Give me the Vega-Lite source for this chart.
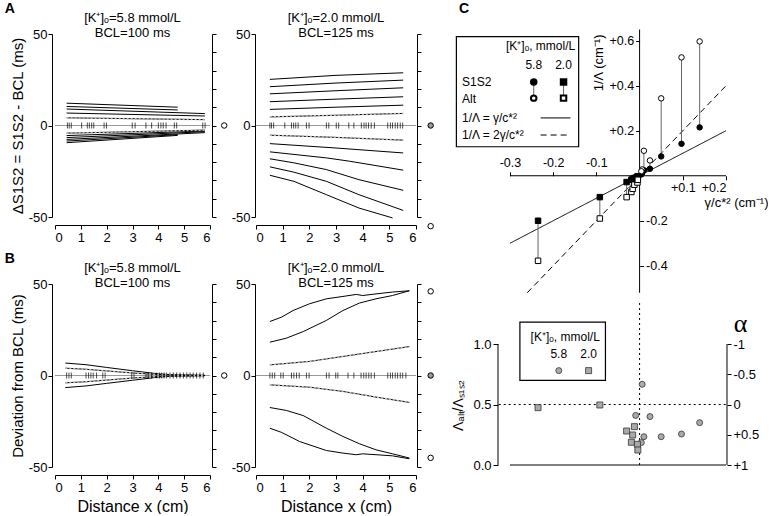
{
"$schema":"https://vega.github.io/schema/vega-lite/v6.json",
"padding":{"left":4,"top":2,"right":0,"bottom":0},
"config":{"view":{"stroke":null},
 "axis":{"grid":false,"labelFont":"Liberation Sans","titleFont":"Liberation Sans","labelFontSize":13,"titleFontSize":13,"titleFontWeight":"normal","labelColor":"black","titleColor":"black","domainColor":"black","tickColor":"black","domainWidth":1,"tickWidth":1},
 "title":{"font":"Liberation Sans","fontSize":13,"fontWeight":"normal","color":"black","lineHeight":15,"offset":-12,"frame":"group"},
 "text":{"font":"Liberation Sans","fontSize":12,"color":"black"}},
"datasets":{
 "aL":[
  {"s":"p1","src":"sim","x":0.45,"y":12.2},{"s":"p1","src":"sim","x":4.75,"y":10.0},
  {"s":"p2","src":"sim","x":0.45,"y":10.4},{"s":"p2","src":"sim","x":4.75,"y":8.5},
  {"s":"p3","src":"sim","x":0.45,"y":9.0},{"s":"p3","src":"sim","x":5.8,"y":6.5},
  {"s":"p4","src":"sim","x":0.45,"y":6.8},{"s":"p4","src":"sim","x":5.8,"y":5.2},
  {"s":"p5","src":"theory","x":0.45,"y":4.2},{"s":"p5","src":"theory","x":5.8,"y":3.2},
  {"s":"n1","src":"theory","x":0.45,"y":-4.2},{"s":"n1","src":"theory","x":5.8,"y":-2.5},
  {"s":"n2","src":"sim","x":0.45,"y":-5.5},{"s":"n2","src":"sim","x":5.8,"y":-3.0},
  {"s":"n3","src":"sim","x":0.45,"y":-6.6},{"s":"n3","src":"sim","x":5.8,"y":-3.4},
  {"s":"n4","src":"sim","x":0.45,"y":-7.6},{"s":"n4","src":"sim","x":5.8,"y":-3.9},
  {"s":"n5","src":"sim","x":0.45,"y":-8.5},{"s":"n5","src":"sim","x":4.75,"y":-5.0},
  {"s":"n6","src":"sim","x":0.45,"y":-9.4},{"s":"n6","src":"sim","x":4.75,"y":-5.4}],
 "aR":[
  {"s":"p1","src":"sim","x":0.52,"y":25.2},{"s":"p1","src":"sim","x":3.0,"y":27.4},{"s":"p1","src":"sim","x":5.52,"y":28.8},
  {"s":"p2","src":"sim","x":0.52,"y":21.2},{"s":"p2","src":"sim","x":3.0,"y":23.2},{"s":"p2","src":"sim","x":5.52,"y":24.8},
  {"s":"p3","src":"sim","x":0.52,"y":17.3},{"s":"p3","src":"sim","x":3.0,"y":19.0},{"s":"p3","src":"sim","x":5.52,"y":20.6},
  {"s":"p4","src":"sim","x":0.52,"y":13.0},{"s":"p4","src":"sim","x":3.0,"y":14.4},{"s":"p4","src":"sim","x":5.52,"y":15.7},
  {"s":"p5","src":"sim","x":0.52,"y":8.8},{"s":"p5","src":"sim","x":3.0,"y":10.0},{"s":"p5","src":"sim","x":5.52,"y":11.1},
  {"s":"p6","src":"theory","x":0.52,"y":4.7},{"s":"p6","src":"theory","x":3.0,"y":5.6},{"s":"p6","src":"theory","x":5.52,"y":6.6},
  {"s":"n1","src":"theory","x":0.52,"y":-5.3},{"s":"n1","src":"theory","x":3.0,"y":-6.5},{"s":"n1","src":"theory","x":5.52,"y":-8.0},
  {"s":"n2","src":"sim","x":0.52,"y":-9.9},{"s":"n2","src":"sim","x":3.0,"y":-12.3},{"s":"n2","src":"sim","x":5.52,"y":-15.0},
  {"s":"n3","src":"sim","x":0.52,"y":-14.4},{"s":"n3","src":"sim","x":2.64,"y":-17.7},{"s":"n3","src":"sim","x":3.5,"y":-19.5},{"s":"n3","src":"sim","x":5.52,"y":-24.4},
  {"s":"n4","src":"sim","x":0.52,"y":-18.2},{"s":"n4","src":"sim","x":1.42,"y":-20.4},{"s":"n4","src":"sim","x":2.64,"y":-24.1},{"s":"n4","src":"sim","x":3.86,"y":-29.6},{"s":"n4","src":"sim","x":5.52,"y":-35.4},
  {"s":"n5","src":"sim","x":0.52,"y":-22.6},{"s":"n5","src":"sim","x":1.42,"y":-25.5},{"s":"n5","src":"sim","x":2.64,"y":-30.5},{"s":"n5","src":"sim","x":3.86,"y":-37.8},{"s":"n5","src":"sim","x":5.52,"y":-46.4},
  {"s":"n6","src":"sim","x":0.52,"y":-27.2},{"s":"n6","src":"sim","x":1.42,"y":-30.5},{"s":"n6","src":"sim","x":2.64,"y":-37.8},{"s":"n6","src":"sim","x":3.86,"y":-45.1},{"s":"n6","src":"sim","x":5.12,"y":-50.5}],
 "bL":[
  {"s":"u1","src":"sim","x":0.4,"y":6.8},{"s":"u1","src":"sim","x":1.2,"y":5.9},{"s":"u1","src":"sim","x":2.0,"y":4.4},{"s":"u1","src":"sim","x":3.0,"y":2.6},{"s":"u1","src":"sim","x":4.0,"y":0.9},{"s":"u1","src":"sim","x":4.6,"y":0.3},{"s":"u1","src":"sim","x":5.8,"y":0.1},
  {"s":"u2","src":"theory","x":0.4,"y":4.0},{"s":"u2","src":"theory","x":1.2,"y":3.4},{"s":"u2","src":"theory","x":2.0,"y":2.5},{"s":"u2","src":"theory","x":3.0,"y":1.4},{"s":"u2","src":"theory","x":4.0,"y":0.5},{"s":"u2","src":"theory","x":5.8,"y":0.05},
  {"s":"d2","src":"theory","x":0.4,"y":-4.0},{"s":"d2","src":"theory","x":1.2,"y":-3.4},{"s":"d2","src":"theory","x":2.0,"y":-2.5},{"s":"d2","src":"theory","x":3.0,"y":-1.4},{"s":"d2","src":"theory","x":4.0,"y":-0.5},{"s":"d2","src":"theory","x":5.8,"y":-0.05},
  {"s":"d1","src":"sim","x":0.4,"y":-6.6},{"s":"d1","src":"sim","x":1.2,"y":-5.7},{"s":"d1","src":"sim","x":2.0,"y":-4.3},{"s":"d1","src":"sim","x":3.0,"y":-2.6},{"s":"d1","src":"sim","x":4.0,"y":-0.9},{"s":"d1","src":"sim","x":4.6,"y":-0.3},{"s":"d1","src":"sim","x":5.8,"y":-0.1}],
 "bR":[
  {"s":"u1","src":"sim","x":0.52,"y":29.5},{"s":"u1","src":"sim","x":0.96,"y":31.9},{"s":"u1","src":"sim","x":1.39,"y":35.5},{"s":"u1","src":"sim","x":2.01,"y":39.2},{"s":"u1","src":"sim","x":2.64,"y":41.9},{"s":"u1","src":"sim","x":3.26,"y":43.2},{"s":"u1","src":"sim","x":3.76,"y":44.3},{"s":"u1","src":"sim","x":4.0,"y":43.7},{"s":"u1","src":"sim","x":4.5,"y":44.6},{"s":"u1","src":"sim","x":5.12,"y":45.6},{"s":"u1","src":"sim","x":5.75,"y":46.3},
  {"s":"u2","src":"sim","x":0.52,"y":18.2},{"s":"u2","src":"sim","x":1.14,"y":20.4},{"s":"u2","src":"sim","x":1.77,"y":24.0},{"s":"u2","src":"sim","x":2.64,"y":30.1},{"s":"u2","src":"sim","x":3.26,"y":35.5},{"s":"u2","src":"sim","x":3.88,"y":39.6},{"s":"u2","src":"sim","x":4.5,"y":41.9},{"s":"u2","src":"sim","x":5.12,"y":43.7},{"s":"u2","src":"sim","x":5.75,"y":46.3},
  {"s":"u3","src":"theory","x":0.52,"y":5.8},{"s":"u3","src":"theory","x":2.01,"y":7.7},{"s":"u3","src":"theory","x":3.26,"y":10.4},{"s":"u3","src":"theory","x":4.5,"y":13.1},{"s":"u3","src":"theory","x":5.75,"y":15.8},
  {"s":"d1","src":"theory","x":0.52,"y":-5.1},{"s":"d1","src":"theory","x":2.01,"y":-6.4},{"s":"d1","src":"theory","x":3.26,"y":-8.7},{"s":"d1","src":"theory","x":4.5,"y":-11.8},{"s":"d1","src":"theory","x":5.75,"y":-14.7},
  {"s":"d2","src":"sim","x":0.52,"y":-17.5},{"s":"d2","src":"sim","x":1.14,"y":-19.1},{"s":"d2","src":"sim","x":1.77,"y":-21.9},{"s":"d2","src":"sim","x":2.64,"y":-28.8},{"s":"d2","src":"sim","x":3.26,"y":-33.3},{"s":"d2","src":"sim","x":3.88,"y":-37.3},{"s":"d2","src":"sim","x":4.5,"y":-40.6},{"s":"d2","src":"sim","x":5.12,"y":-42.8},{"s":"d2","src":"sim","x":5.75,"y":-45.1},
  {"s":"d3","src":"sim","x":0.52,"y":-28.8},{"s":"d3","src":"sim","x":0.96,"y":-31.1},{"s":"d3","src":"sim","x":1.64,"y":-36.1},{"s":"d3","src":"sim","x":2.64,"y":-41.0},{"s":"d3","src":"sim","x":3.26,"y":-42.4},{"s":"d3","src":"sim","x":3.76,"y":-43.3},{"s":"d3","src":"sim","x":4.0,"y":-42.8},{"s":"d3","src":"sim","x":5.12,"y":-43.9},{"s":"d3","src":"sim","x":5.75,"y":-45.5}],
 "tAL":[{"x":0.48},{"x":0.55},{"x":0.63},{"x":1.03},{"x":1.25},{"x":1.33},{"x":1.42},{"x":1.5},{"x":1.9},{"x":1.99},{"x":2.99},{"x":3.1},{"x":3.52},{"x":3.74},{"x":4.0},{"x":4.1},{"x":4.19},{"x":4.3},{"x":4.62},{"x":4.71},{"x":5.72},{"x":5.81}],
 "tAR":[{"x":0.52},{"x":0.58},{"x":0.66},{"x":1.08},{"x":1.33},{"x":1.41},{"x":1.49},{"x":1.58},{"x":1.89},{"x":1.99},{"x":2.64},{"x":2.73},{"x":3.01},{"x":3.1},{"x":3.48},{"x":3.67},{"x":3.95},{"x":4.05},{"x":4.13},{"x":4.22},{"x":4.32},{"x":4.44},{"x":4.94},{"x":5.04},{"x":5.12},{"x":5.22},{"x":5.31},{"x":5.41},{"x":5.5}],
 "tBL":[{"x":0.45},{"x":0.54},{"x":0.63},{"x":1.2},{"x":1.3},{"x":1.39},{"x":1.48},{"x":1.61},{"x":1.85},{"x":1.94},{"x":2.97},{"x":3.06},{"x":3.52},{"x":3.61},{"x":3.74},{"x":3.94},{"x":4.04},{"x":4.13},{"x":4.22},{"x":4.32},{"x":4.45},{"x":4.58},{"x":4.71},{"x":4.84},{"x":4.97},{"x":5.1},{"x":5.23},{"x":5.35},{"x":5.48},{"x":5.61},{"x":5.74}],
 "tBR":[{"x":0.52},{"x":0.61},{"x":0.7},{"x":0.93},{"x":1.02},{"x":1.33},{"x":1.42},{"x":1.52},{"x":1.62},{"x":1.89},{"x":1.99},{"x":2.64},{"x":2.74},{"x":2.99},{"x":3.07},{"x":3.45},{"x":3.67},{"x":3.94},{"x":4.04},{"x":4.13},{"x":4.23},{"x":4.32},{"x":4.44},{"x":4.94},{"x":5.04},{"x":5.12},{"x":5.22},{"x":5.31},{"x":5.41},{"x":5.5},{"x":5.62}],
 "oAL":[{"y":0,"k":"open"}],
 "oAR":[{"y":0,"k":"gray"},{"y":-55,"k":"open"}],
 "oBL":[{"y":0,"k":"open"}],
 "oBR":[{"y":46,"k":"open"},{"y":0,"k":"gray"},{"y":-45,"k":"open"}],
 "cLines":[{"eq":"γ/c*²","x":-0.3,"y":-0.3},{"eq":"γ/c*²","x":0.2,"y":0.2},{"eq":"2γ/c*²","x":-0.26,"y":-0.52},{"eq":"2γ/c*²","x":0.2,"y":0.4}],
 "cPairs":[
  {"g":"5.8","x":0.139,"s1s2":0.215,"alt":0.597},{"g":"5.8","x":0.097,"s1s2":0.142,"alt":0.526},{"g":"5.8","x":0.05,"s1s2":0.086,"alt":0.344},{"g":"5.8","x":0.024,"s1s2":0.031,"alt":0.068},{"g":"5.8","x":0.01,"s1s2":0.025,"alt":0.111},{"g":"5.8","x":0.006,"s1s2":0.012,"alt":0.028},{"g":"5.8","x":0.004,"s1s2":0.006,"alt":0.02},{"g":"5.8","x":-0.009,"s1s2":-0.004,"alt":-0.01},
  {"g":"2.0","x":-0.235,"s1s2":-0.2,"alt":-0.378},{"g":"2.0","x":-0.092,"s1s2":-0.095,"alt":-0.19},{"g":"2.0","x":-0.03,"s1s2":-0.028,"alt":-0.095},{"g":"2.0","x":-0.019,"s1s2":-0.018,"alt":-0.072},{"g":"2.0","x":-0.016,"s1s2":-0.014,"alt":-0.058},{"g":"2.0","x":-0.012,"s1s2":-0.01,"alt":-0.04},{"g":"2.0","x":-0.005,"s1s2":-0.004,"alt":-0.03},{"g":"2.0","x":-0.004,"s1s2":-0.002,"alt":-0.018}],
 "cRatio":[
  {"g":"5.8","x":0.139,"r":0.35},{"g":"5.8","x":0.097,"r":0.256},{"g":"5.8","x":0.05,"r":0.234},{"g":"5.8","x":0.024,"r":0.4},{"g":"5.8","x":0.01,"r":0.234},{"g":"5.8","x":0.006,"r":0.667},{"g":"5.8","x":-0.009,"r":0.41},{"g":"5.8","x":0.004,"r":0.185},
  {"g":"2.0","x":-0.235,"r":0.474},{"g":"2.0","x":-0.092,"r":0.496},{"g":"2.0","x":-0.012,"r":0.317},{"g":"2.0","x":-0.03,"r":0.281},{"g":"2.0","x":-0.016,"r":0.248},{"g":"2.0","x":-0.019,"r":0.188},{"g":"2.0","x":-0.005,"r":0.171},{"g":"2.0","x":-0.004,"r":0.124}]
},
"columns":3,
"bounds":"flush",
"spacing":{"row":7,"column":46},
"resolve":{"scale":{"fill":"independent","shape":"independent","strokeDash":"independent"}},
"concat":[
 {"width":155,"height":183,
  "title":{"text":["[K⁺]ₒ=5.8 mmol/L","BCL=100 ms"]},
  "layer":[
   {"data":{"values":[{}]},"mark":{"type":"rule","color":"#999","strokeWidth":1},"encoding":{"x":{"datum":0,"axis":null},"x2":{"datum":6},"y":{"datum":0,"axis":null}}},
   {"data":{"name":"aL"},"mark":{"type":"line","color":"black","strokeWidth":1},"encoding":{"x":{"field":"x","type":"quantitative","scale":{"domain":[0,6],"nice":false,"zero":false},"axis":{"orient":"bottom","values":[0,1,2,3,4,5,6],"format":"d","offset":8,"title":null,"tickSize":4,"labelPadding":2}},"y":{"field":"y","type":"quantitative","scale":{"domain":[-50,50],"nice":false,"zero":false},"axis":{"orient":"left","values":[-50,0,50],"labelExpr":"datum.value < 0 ? '-' + format(-datum.value, 'd') : format(datum.value, 'd')","offset":3,"title":"ΔS1S2 = S1S2 - BCL (ms)","titleFontSize":15,"titlePadding":3,"tickSize":4,"labelPadding":1}},"detail":{"field":"s"}}},
   {"data":{"name":"aL"},"transform":[{"filter":"datum.src == 'theory'"}],"mark":{"type":"line","color":"#bbb","strokeWidth":1.5,"strokeDash":[2,2]},"encoding":{"x":{"field":"x","type":"quantitative","axis":null},"y":{"field":"y","type":"quantitative","axis":null},"detail":{"field":"s"}}},
   {"data":{"name":"tAL"},"mark":{"type":"tick","orient":"vertical","size":6,"thickness":1,"color":"black"},"encoding":{"x":{"field":"x","type":"quantitative","axis":null},"y":{"datum":0,"axis":null}}},
   {"data":{"name":"oAL"},"mark":{"type":"point","filled":true,"size":30,"stroke":"black","strokeWidth":1,"opacity":1},"encoding":{"x":{"datum":6.55,"axis":null},"y":{"field":"y","type":"quantitative","axis":{"orient":"right","values":[-50,-40,-30,-20,-10,0,10,20,30,40,50],"labels":false,"offset":2,"title":null,"tickSize":4}},"fill":{"field":"k","type":"nominal","scale":{"domain":["open","gray"],"range":["white","#999"]},"legend":null}}}
  ],
  "resolve":{"axis":{"x":"independent","y":"independent"}}},
 {"width":160,"height":183,
  "title":{"text":["[K⁺]ₒ=2.0 mmol/L","BCL=125 ms"]},
  "layer":[
   {"data":{"values":[{}]},"mark":{"type":"rule","color":"#999","strokeWidth":1},"encoding":{"x":{"datum":0,"axis":null},"x2":{"datum":6},"y":{"datum":0,"axis":null}}},
   {"data":{"name":"aR"},"mark":{"type":"line","color":"black","strokeWidth":1},"encoding":{"x":{"field":"x","type":"quantitative","scale":{"domain":[0,6],"nice":false,"zero":false},"axis":{"orient":"bottom","values":[0,1,2,3,4,5,6],"format":"d","offset":8,"title":null,"tickSize":4,"labelPadding":2}},"y":{"field":"y","type":"quantitative","scale":{"domain":[-50,50],"nice":false,"zero":false},"axis":{"orient":"left","values":[-50,0,50],"labelExpr":"datum.value < 0 ? '-' + format(-datum.value, 'd') : format(datum.value, 'd')","offset":1,"title":null,"tickSize":4,"labelPadding":1}},"detail":{"field":"s"}}},
   {"data":{"name":"aR"},"transform":[{"filter":"datum.src == 'theory'"}],"mark":{"type":"line","color":"#bbb","strokeWidth":1.5,"strokeDash":[2,2]},"encoding":{"x":{"field":"x","type":"quantitative","axis":null},"y":{"field":"y","type":"quantitative","axis":null},"detail":{"field":"s"}}},
   {"data":{"name":"tAR"},"mark":{"type":"tick","orient":"vertical","size":6,"thickness":1,"color":"black"},"encoding":{"x":{"field":"x","type":"quantitative","axis":null},"y":{"datum":0,"axis":null}}},
   {"data":{"name":"oAR"},"mark":{"type":"point","filled":true,"size":30,"stroke":"black","strokeWidth":1,"opacity":1},"encoding":{"x":{"datum":6.55,"axis":null},"y":{"field":"y","type":"quantitative","axis":{"orient":"right","values":[-50,-40,-30,-20,-10,0,10,20,30,40,50],"labels":false,"offset":1,"title":null,"tickSize":4}},"fill":{"field":"k","type":"nominal","scale":{"domain":["open","gray"],"range":["white","#999"]},"legend":null}}}
  ],
  "resolve":{"axis":{"x":"independent","y":"independent"}}},
 {"width":264,"height":243,
  "layer":[
   {"data":{"name":"cLines"},"mark":{"type":"line","color":"black","strokeWidth":1},"encoding":{"x":{"field":"x","type":"quantitative","scale":{"domain":[-0.411,0.2],"nice":false,"zero":false},"axis":{"orient":"top","values":[-0.3,-0.2,-0.1],"labelExpr":"'-' + format(-datum.value, '.1f')","offset":-141.75,"domain":false,"title":null,"tickSize":4,"labelPadding":2,"labelFontSize":12.5}},"y":{"field":"y","type":"quantitative","scale":{"domain":[-0.45,0.63],"nice":false,"zero":false},"axis":{"orient":"left","values":[0.2,0.4,0.6],"labelExpr":"'+' + format(datum.value, '.1f')","offset":-177.6,"domain":false,"title":"1/Λ (cm⁻¹)","titleAnchor":"end","titlePadding":3,"tickSize":4,"labelPadding":2,"labelFontSize":12.5}},"strokeDash":{"field":"eq","type":"nominal","scale":{"domain":["γ/c*²","2γ/c*²"],"range":[[1,0],[6,4]]},"legend":null}}},
   {"data":{"name":"cPairs"},"mark":{"type":"rule","color":"#666","strokeWidth":1},"encoding":{"x":{"field":"x","type":"quantitative","axis":{"orient":"bottom","values":[0.1,0.2],"labelExpr":"'+' + format(datum.value, '.1f')","offset":-101.25,"domain":false,"title":"γ/c*² (cm⁻¹)","titleX":306,"titleY":21,"titleAlign":"right","titleBaseline":"top","titleAngle":0,"tickSize":4,"labelPadding":2,"labelFontSize":12.5}},"y":{"field":"s1s2","type":"quantitative","axis":{"orient":"right","values":[-0.2,-0.4],"labelExpr":"'-' + format(-datum.value, '.1f')","offset":-86.4,"domain":false,"title":null,"tickSize":4,"labelPadding":2,"labelFontSize":12.5}},"y2":{"field":"alt"}}},
   {"data":{"values":[{}]},"mark":{"type":"rule","color":"black","strokeWidth":1},"encoding":{"x":{"datum":-0.3,"axis":null},"x2":{"datum":0.2},"y":{"datum":0,"axis":null}}},
   {"data":{"values":[{}]},"mark":{"type":"rule","color":"black","strokeWidth":1},"encoding":{"x":{"datum":0,"axis":null},"y":{"datum":-0.52,"axis":null},"y2":{"datum":0.65}}},
   {"data":{"name":"cPairs"},"transform":[{"fold":["s1s2","alt"],"as":["protocol","v"]}],"mark":{"type":"point","filled":true,"size":30,"stroke":"black","strokeWidth":1,"opacity":1},"encoding":{"x":{"field":"x","type":"quantitative","axis":null},"y":{"field":"v","type":"quantitative","axis":null},"shape":{"field":"g","type":"nominal","scale":{"domain":["5.8","2.0"],"range":["circle","square"]},"legend":null},"fill":{"field":"protocol","type":"nominal","scale":{"domain":["s1s2","alt"],"range":["black","white"]},"legend":null}}},
   {"data":{"values":[{}]},"mark":{"type":"rect","fill":"white","stroke":"black","strokeWidth":1.2},"encoding":{"x":{"datum":-0.424,"axis":null},"x2":{"datum":-0.141},"y":{"datum":0.618,"axis":null},"y2":{"datum":0.129}}},
   {"data":{"values":[{}]},"mark":{"type":"text","text":"[K⁺]ₒ, mmol/L","align":"right","baseline":"middle"},"encoding":{"x":{"datum":-0.149,"axis":null},"y":{"datum":0.577,"axis":null}}},
   {"data":{"values":[{}]},"mark":{"type":"text","text":"5.8","align":"center","baseline":"middle"},"encoding":{"x":{"datum":-0.245,"axis":null},"y":{"datum":0.492,"axis":null}}},
   {"data":{"values":[{}]},"mark":{"type":"text","text":"2.0","align":"center","baseline":"middle"},"encoding":{"x":{"datum":-0.176,"axis":null},"y":{"datum":0.492,"axis":null}}},
   {"data":{"values":[{}]},"mark":{"type":"text","text":"S1S2","align":"left","baseline":"middle"},"encoding":{"x":{"datum":-0.411,"axis":null},"y":{"datum":0.417,"axis":null}}},
   {"data":{"values":[{}]},"mark":{"type":"text","text":"Alt","align":"left","baseline":"middle"},"encoding":{"x":{"datum":-0.411,"axis":null},"y":{"datum":0.341,"axis":null}}},
   {"data":{"values":[{}]},"mark":{"type":"text","text":"1/Λ = γ/c*²","align":"left","baseline":"middle"},"encoding":{"x":{"datum":-0.411,"axis":null},"y":{"datum":0.257,"axis":null}}},
   {"data":{"values":[{}]},"mark":{"type":"text","text":"1/Λ = 2γ/c*²","align":"left","baseline":"middle"},"encoding":{"x":{"datum":-0.411,"axis":null},"y":{"datum":0.181,"axis":null}}},
   {"data":{"values":[{}]},"mark":{"type":"rule","color":"black","strokeWidth":1},"encoding":{"x":{"datum":-0.229,"axis":null},"x2":{"datum":-0.16},"y":{"datum":0.257,"axis":null}}},
   {"data":{"values":[{}]},"mark":{"type":"rule","color":"black","strokeWidth":1,"strokeDash":[6,4]},"encoding":{"x":{"datum":-0.229,"axis":null},"x2":{"datum":-0.16},"y":{"datum":0.181,"axis":null}}},
   {"data":{"values":[{}]},"mark":{"type":"rule","color":"#666","strokeWidth":1},"encoding":{"x":{"datum":-0.245,"axis":null},"y":{"datum":0.417,"axis":null},"y2":{"datum":0.345}}},
   {"data":{"values":[{}]},"mark":{"type":"rule","color":"#666","strokeWidth":1},"encoding":{"x":{"datum":-0.176,"axis":null},"y":{"datum":0.417,"axis":null},"y2":{"datum":0.345}}},
   {"data":{"values":[{}]},"mark":{"type":"point","shape":"circle","filled":true,"fill":"black","stroke":"black","size":30,"opacity":1},"encoding":{"x":{"datum":-0.245,"axis":null},"y":{"datum":0.417,"axis":null}}},
   {"data":{"values":[{}]},"mark":{"type":"point","shape":"circle","filled":true,"fill":"white","stroke":"black","size":30,"opacity":1},"encoding":{"x":{"datum":-0.245,"axis":null},"y":{"datum":0.345,"axis":null}}},
   {"data":{"values":[{}]},"mark":{"type":"point","shape":"square","filled":true,"fill":"black","stroke":"black","size":30,"opacity":1},"encoding":{"x":{"datum":-0.176,"axis":null},"y":{"datum":0.417,"axis":null}}},
   {"data":{"values":[{}]},"mark":{"type":"point","shape":"square","filled":true,"fill":"white","stroke":"black","size":30,"opacity":1},"encoding":{"x":{"datum":-0.176,"axis":null},"y":{"datum":0.345,"axis":null}}},
   {"data":{"values":[{}]},"mark":{"type":"text","text":"C","fontWeight":"bold","fontSize":14,"align":"left","baseline":"alphabetic"},"encoding":{"x":{"datum":-0.418,"axis":null},"y":{"datum":0.723,"axis":null}}},
   {"data":{"values":[{}]},"mark":{"type":"text","text":"A","fontWeight":"bold","fontSize":14,"align":"left","baseline":"alphabetic"},"encoding":{"x":{"datum":-1.469,"axis":null},"y":{"datum":0.723,"axis":null}}},
   {"data":{"values":[{}]},"mark":{"type":"text","text":"B","fontWeight":"bold","fontSize":14,"align":"left","baseline":"alphabetic"},"encoding":{"x":{"datum":-1.469,"axis":null},"y":{"datum":-0.388,"axis":null}}}
  ],
  "resolve":{"axis":{"x":"independent","y":"independent"}}},
 {"width":155,"height":183,
  "title":{"text":["[K⁺]ₒ=5.8 mmol/L","BCL=100 ms"]},
  "layer":[
   {"data":{"values":[{}]},"mark":{"type":"rule","color":"#999","strokeWidth":1},"encoding":{"x":{"datum":0,"axis":null},"x2":{"datum":6},"y":{"datum":0,"axis":null}}},
   {"data":{"name":"bL"},"mark":{"type":"line","color":"black","strokeWidth":1},"encoding":{"x":{"field":"x","type":"quantitative","scale":{"domain":[0,6],"nice":false,"zero":false},"axis":{"orient":"bottom","values":[0,1,2,3,4,5,6],"format":"d","offset":8,"title":"Distance x (cm)","titleFontSize":16,"titlePadding":4,"tickSize":4,"labelPadding":2}},"y":{"field":"y","type":"quantitative","scale":{"domain":[-50,50],"nice":false,"zero":false},"axis":{"orient":"left","values":[-50,0,50],"labelExpr":"datum.value < 0 ? '-' + format(-datum.value, 'd') : format(datum.value, 'd')","offset":3,"title":"Deviation from BCL (ms)","titleFontSize":15,"titlePadding":3,"tickSize":4,"labelPadding":1}},"detail":{"field":"s"}}},
   {"data":{"name":"bL"},"transform":[{"filter":"datum.src == 'theory'"}],"mark":{"type":"line","color":"#bbb","strokeWidth":1.5,"strokeDash":[2,2]},"encoding":{"x":{"field":"x","type":"quantitative","axis":null},"y":{"field":"y","type":"quantitative","axis":null},"detail":{"field":"s"}}},
   {"data":{"name":"tBL"},"mark":{"type":"tick","orient":"vertical","size":6,"thickness":1,"color":"black"},"encoding":{"x":{"field":"x","type":"quantitative","axis":null},"y":{"datum":0,"axis":null}}},
   {"data":{"name":"oBL"},"mark":{"type":"point","filled":true,"size":30,"stroke":"black","strokeWidth":1,"opacity":1},"encoding":{"x":{"datum":6.55,"axis":null},"y":{"field":"y","type":"quantitative","axis":{"orient":"right","values":[-50,-40,-30,-20,-10,0,10,20,30,40,50],"labels":false,"offset":2,"title":null,"tickSize":4}},"fill":{"field":"k","type":"nominal","scale":{"domain":["open","gray"],"range":["white","#999"]},"legend":null}}}
  ],
  "resolve":{"axis":{"x":"independent","y":"independent"}}},
 {"width":160,"height":183,
  "title":{"text":["[K⁺]ₒ=2.0 mmol/L","BCL=125 ms"]},
  "layer":[
   {"data":{"values":[{}]},"mark":{"type":"rule","color":"#999","strokeWidth":1},"encoding":{"x":{"datum":0,"axis":null},"x2":{"datum":6},"y":{"datum":0,"axis":null}}},
   {"data":{"name":"bR"},"mark":{"type":"line","color":"black","strokeWidth":1},"encoding":{"x":{"field":"x","type":"quantitative","scale":{"domain":[0,6],"nice":false,"zero":false},"axis":{"orient":"bottom","values":[0,1,2,3,4,5,6],"format":"d","offset":8,"title":"Distance x (cm)","titleFontSize":16,"titlePadding":4,"tickSize":4,"labelPadding":2}},"y":{"field":"y","type":"quantitative","scale":{"domain":[-50,50],"nice":false,"zero":false},"axis":{"orient":"left","values":[-50,0,50],"labelExpr":"datum.value < 0 ? '-' + format(-datum.value, 'd') : format(datum.value, 'd')","offset":1,"title":null,"tickSize":4,"labelPadding":1}},"detail":{"field":"s"}}},
   {"data":{"name":"bR"},"transform":[{"filter":"datum.src == 'theory'"}],"mark":{"type":"line","color":"#bbb","strokeWidth":1.5,"strokeDash":[2,2]},"encoding":{"x":{"field":"x","type":"quantitative","axis":null},"y":{"field":"y","type":"quantitative","axis":null},"detail":{"field":"s"}}},
   {"data":{"name":"tBR"},"mark":{"type":"tick","orient":"vertical","size":6,"thickness":1,"color":"black"},"encoding":{"x":{"field":"x","type":"quantitative","axis":null},"y":{"datum":0,"axis":null}}},
   {"data":{"name":"oBR"},"mark":{"type":"point","filled":true,"size":30,"stroke":"black","strokeWidth":1,"opacity":1},"encoding":{"x":{"datum":6.55,"axis":null},"y":{"field":"y","type":"quantitative","axis":{"orient":"right","values":[-50,-40,-30,-20,-10,0,10,20,30,40,50],"labels":false,"offset":1,"title":null,"tickSize":4}},"fill":{"field":"k","type":"nominal","scale":{"domain":["open","gray"],"range":["white","#999"]},"legend":null}}}
  ],
  "resolve":{"axis":{"x":"independent","y":"independent"}}},
 {"width":264,"height":183,
  "layer":[
   {"data":{"values":[{}]},"mark":{"type":"rule","color":"black","strokeWidth":1,"strokeDash":[2,3]},"encoding":{"x":{"datum":-0.326,"axis":null},"x2":{"datum":0.2},"y":{"datum":0.5,"axis":{"orient":"right","values":[0,0.25,0.5,0.75,1],"labelExpr":"datum.value == 1 ? '-1' : datum.value == 0.75 ? '-0.5' : datum.value == 0.5 ? '0' : datum.value == 0.25 ? '+0.5' : '+1'","offset":1,"domain":false,"title":"α","titleAngle":0,"titleFont":"Liberation Serif","titleFontSize":26,"titleX":13,"titleY":47,"titleAlign":"center","titleBaseline":"alphabetic","tickSize":4,"labelPadding":2}}}},
   {"data":{"values":[{}]},"mark":{"type":"rule","color":"black","strokeWidth":1,"strokeDash":[2,3]},"encoding":{"x":{"datum":0,"axis":null},"y":{"datum":0,"axis":null},"y2":{"datum":1.364}}},
   {"data":{"values":[{}]},"mark":{"type":"rule","color":"black","strokeWidth":1},"encoding":{"x":{"datum":-0.3,"axis":null},"x2":{"datum":0.2},"y":{"datum":0,"axis":null}}},
   {"data":{"values":[{}]},"mark":{"type":"rule","color":"black","strokeWidth":1},"encoding":{"x":{"datum":-0.3277,"axis":null},"y":{"datum":0,"axis":null},"y2":{"datum":1}}},
   {"data":{"values":[{}]},"mark":{"type":"rule","color":"black","strokeWidth":1},"encoding":{"x":{"datum":0.2023,"axis":null},"y":{"datum":0,"axis":null},"y2":{"datum":1}}},
   {"data":{"name":"cRatio"},"mark":{"type":"point","filled":true,"size":36,"fill":"#aaa","stroke":"#333","strokeWidth":0.8,"opacity":1},"encoding":{"x":{"field":"x","type":"quantitative","scale":{"domain":[-0.411,0.2],"nice":false,"zero":false},"axis":{"orient":"bottom","values":[-0.3,-0.2,-0.1,0,0.1,0.2],"labelExpr":"datum.value < 0 ? '-' + format(-datum.value, '.1f') : datum.value > 0 ? '+' + format(datum.value, '.1f') : '0'","domain":false,"offset":-2,"title":"γ/c*² (cm⁻¹)","titleX":163,"titleY":24,"titleAlign":"center","titleBaseline":"top","titleAngle":0,"tickSize":5,"labelPadding":2}},"y":{"field":"r","type":"quantitative","scale":{"domain":[-0.0165,1.4959],"nice":false,"zero":false},"axis":{"orient":"left","values":[0,0.5,1],"format":".1f","offset":-36,"domain":false,"title":"Λₐₗₜ/Λₛ₁ₛ₂","titleFontSize":14,"titlePadding":4,"titleAnchor":"start","titleX":-33,"titleY":121,"titleAlign":"center","titleBaseline":"bottom","tickSize":5,"labelPadding":2}},"shape":{"field":"g","type":"nominal","scale":{"domain":["5.8","2.0"],"range":["circle","square"]},"legend":null}}},
   {"data":{"values":[{}]},"mark":{"type":"rect","fill":"white","stroke":"black","strokeWidth":1.2},"encoding":{"x":{"datum":-0.277,"axis":null},"x2":{"datum":-0.079},"y":{"datum":1.18,"axis":null},"y2":{"datum":0.7}}},
   {"data":{"values":[{}]},"mark":{"type":"text","text":"[K⁺]ₒ, mmol/L","align":"right","baseline":"middle"},"encoding":{"x":{"datum":-0.092,"axis":null},"y":{"datum":1.058,"axis":null}}},
   {"data":{"values":[{}]},"mark":{"type":"text","text":"5.8","align":"center","baseline":"middle"},"encoding":{"x":{"datum":-0.187,"axis":null},"y":{"datum":0.917,"axis":null}}},
   {"data":{"values":[{}]},"mark":{"type":"text","text":"2.0","align":"center","baseline":"middle"},"encoding":{"x":{"datum":-0.118,"axis":null},"y":{"datum":0.917,"axis":null}}},
   {"data":{"values":[{}]},"mark":{"type":"point","shape":"circle","filled":true,"fill":"#aaa","stroke":"#333","strokeWidth":0.8,"size":36,"opacity":1},"encoding":{"x":{"datum":-0.187,"axis":null},"y":{"datum":0.78,"axis":null}}},
   {"data":{"values":[{}]},"mark":{"type":"point","shape":"square","filled":true,"fill":"#aaa","stroke":"#333","strokeWidth":0.8,"size":36,"opacity":1},"encoding":{"x":{"datum":-0.118,"axis":null},"y":{"datum":0.78,"axis":null}}}
  ],
  "resolve":{"axis":{"y":"independent"}}}
]
}
